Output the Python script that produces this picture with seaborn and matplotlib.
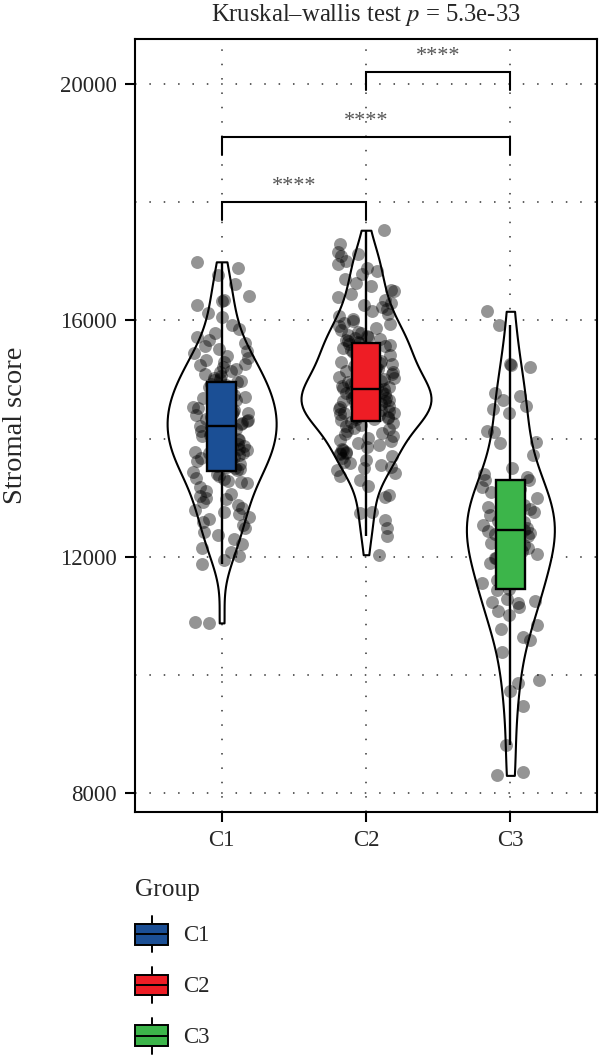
"""
Stromal score by immune cluster: violin + box + jitter, Kruskal-Wallis header
"""
import numpy as np
import pandas as pd
import matplotlib
matplotlib.use("Agg")
import matplotlib.pyplot as plt
from matplotlib.patches import Patch, Rectangle
from matplotlib.lines import Line2D
from matplotlib.legend_handler import HandlerBase
import seaborn as sns

groups = ["C1", "C2", "C3"]
box_colors = ["#1B4F95", "#EE1D25", "#3CB54A"]

# scores read off the jittered points (estimated where points overlap)
c1_scores = [
    16990, 16880, 16760, 16610, 16410, 16340, 16320, 16260, 16120, 16050, 15920, 15860, 15780,
    15720, 15660, 15610, 15560, 15520,
    15480, 15450, 15400, 15370, 15330, 15290, 15260,
    15240, 15210, 15180, 15150, 15120, 15090, 15060, 15030, 15010,
    14990, 14970, 14950, 14930, 14900, 14870, 14850, 14820, 14800, 14780, 14760,
    14740, 14720, 14700, 14680, 14650, 14630, 14610, 14590, 14570, 14550, 14530, 14510,
    14490, 14470, 14450, 14430, 14410, 14390, 14370, 14350, 14330, 14310, 14290, 14270, 14255,
    14240, 14220, 14200, 14180, 14160, 14140, 14120, 14100, 14080, 14060, 14040, 14020, 14005,
    13990, 13970, 13950, 13920, 13900, 13880, 13850, 13830, 13810, 13780, 13760, 13750,
    13740, 13720, 13690, 13670, 13640, 13620, 13590, 13570, 13540, 13520, 13505,
    13490, 13460, 13430, 13400, 13370, 13340, 13310, 13280, 13260,
    13240, 13180, 13120, 13060, 13030, 13000,
    12980, 12930, 12880, 12830, 12790, 12760,
    12720, 12680, 12630, 12580, 12530,
    12480, 12420, 12360, 12300,
    12220, 12150, 12080, 12020,
    11950, 11870,
    10900, 10880,
]
c2_scores = [
    17525, 17290, 17150, 17120, 17085, 17010,
    16950, 16880, 16840, 16790,
    16700, 16640, 16580, 16520,
    16490, 16440, 16400, 16350, 16300, 16260,
    16230, 16190, 16150, 16110, 16070, 16030,
    15990, 15960, 15930, 15900, 15870, 15840, 15810, 15780, 15760,
    15740, 15720, 15700, 15680, 15665, 15650, 15640,
    15620, 15600, 15580, 15560, 15540, 15520, 15505,
    15490, 15470, 15440, 15420, 15390, 15370, 15340, 15320, 15300, 15280, 15260,
    15240, 15220, 15200, 15180, 15160, 15140, 15120, 15100, 15080, 15060, 15040, 15020, 15005,
    14990, 14975, 14960, 14940, 14920, 14900, 14885, 14870, 14860, 14855, 14850, 14848,
    14830, 14810, 14795, 14780, 14765, 14755,
    14740, 14728, 14716, 14704, 14692, 14680, 14668, 14655, 14642, 14630,
    14617, 14604, 14591, 14578, 14565, 14552, 14540, 14527, 14515, 14503,
    14490, 14479, 14468, 14457, 14446, 14435, 14424, 14413,
    14402, 14391, 14380, 14369, 14358, 14347, 14336, 14325,
    14310, 14285, 14260, 14235, 14210, 14185, 14160, 14130, 14100, 14070, 14040, 14010,
    13980, 13950, 13920, 13890, 13860, 13830, 13800, 13775, 13760, 13750,
    13730, 13700, 13670, 13640, 13610, 13580, 13550, 13525, 13505,
    13470, 13420, 13370, 13300,
    13203, 13050, 13017,
    12760, 12746, 12627,
    12492, 12356, 12034,
]
c3_scores = [
    16153, 15915, 15254, 15237, 15203, 14763, 14712, 14644, 14542, 14508,
    14424, 14119, 14110, 13949, 13932, 13729, 13508, 13407, 13356,
    13300, 13290,
    13186, 13150, 13100, 13085, 13000, 12960, 12932, 12880, 12847, 12800,
    12750, 12700, 12644, 12600, 12593, 12542, 12520, 12480, 12460, 12430,
    12407, 12390, 12350, 12300, 12237, 12203, 12150, 12100, 12050, 11983,
    11975, 11900, 11898, 11800, 11712, 11650, 11600, 11550,
    11450, 11440,
    11288, 11254, 11237, 11220, 11150, 11085, 11017, 10847, 10780, 10650,
    10593, 10390, 9915, 9864, 9729, 9475, 8814, 8356, 8300,
]

# significance brackets: pair, bracket height, label
bracket_pairs = [("C1", "C2"), ("C1", "C3"), ("C2", "C3")]
bracket_heights = [18000, 19100, 20200]
bracket_labels = ["****", "****", "****"]
title_text = "Kruskal\u2013wallis test $p$ = 5.3e-33"


class BoxKeyHandler(HandlerBase):
    """Legend key drawn like a small boxplot"""

    def create_artists(self, legend, orig_handle, xdescent, ydescent,
                       width, height, fontsize, trans):
        x0, y0 = -xdescent, -ydescent
        bh = height * 0.58
        by = y0 + (height - bh) / 2
        cx = x0 + width / 2
        lw = 1.4
        top = Line2D([cx, cx], [by + bh, y0 + height], color="black", lw=lw, transform=trans)
        bot = Line2D([cx, cx], [y0, by], color="black", lw=lw, transform=trans)
        rect = Rectangle((x0, by), width, bh, facecolor=orig_handle.get_facecolor(),
                         edgecolor="black", lw=lw, transform=trans)
        med = Line2D([x0, x0 + width], [by + bh / 2] * 2, color="black", lw=lw, transform=trans)
        return [top, bot, rect, med]


def main():
    sns.set_style("white")
    plt.rcParams["font.family"] = ["Liberation Serif", "DejaVu Serif"]
    plt.rcParams["mathtext.fontset"] = "stix"
    fs = 16.5

    df = pd.DataFrame({
        "Group": ["C1"] * len(c1_scores) + ["C2"] * len(c2_scores) + ["C3"] * len(c3_scores),
        "Stromal score": c1_scores + c2_scores + c3_scores,
    })

    fig = plt.figure(figsize=(6, 10.58), dpi=100)
    ax = fig.add_axes([0.225, 0.2325, 0.77, 0.7306])

    sns.violinplot(data=df, x="Group", y="Stromal score", order=groups,
                   color="white", linecolor="black", linewidth=1.5, inner=None,
                   cut=0, density_norm="area", width=0.9,
                   bw_method="silverman", bw_adjust=0.85, ax=ax, zorder=1)

    np.random.seed(7)
    sns.stripplot(data=df, x="Group", y="Stromal score", order=groups,
                  color="black", alpha=0.42, size=9.3, jitter=0.2, linewidth=0,
                  ax=ax, zorder=2)

    sns.boxplot(data=df, x="Group", y="Stromal score", order=groups,
                hue="Group", hue_order=groups, palette=box_colors, legend=False,
                saturation=1, width=0.2, showfliers=False, showcaps=False, whis=1.5,
                linecolor="black", linewidth=1.7, ax=ax, zorder=3)

    # brackets
    pos = {g: i for i, g in enumerate(groups)}
    for (a, b), h, lab in zip(bracket_pairs, bracket_heights, bracket_labels):
        xa, xb = pos[a], pos[b]
        ax.plot([xa, xa, xb, xb], [h - 300, h, h, h - 300], color="black", lw=1.5,
                solid_joinstyle="miter", zorder=4)
        ax.text((xa + xb) / 2, h + 100, lab, ha="center", va="bottom",
                fontsize=16, color="#555555", zorder=4)

    ax.set_xlim(-0.6, 2.6)
    ax.set_ylim(7680, 20760)
    ax.set_yticks([8000, 12000, 16000, 20000])
    ax.set_yticks([10000, 14000, 18000], minor=True)
    ax.set_axisbelow(True)
    ax.grid(which="both", axis="both", linestyle=(0, (1, 8.4)), color="#333333",
            linewidth=1.1)

    for sp in ax.spines.values():
        sp.set_visible(True)
        sp.set_color("black")
        sp.set_linewidth(1.5)
    ax.tick_params(axis="both", which="major", length=7, width=1.5, color="black",
                   labelsize=fs, pad=6, left=True, bottom=True)
    ax.tick_params(axis="y", which="minor", length=0)

    ax.set_xlabel("")
    ax.set_ylabel("Stromal score", fontsize=20.5)
    ax.yaxis.set_label_coords(-0.232, 0.5)
    ax.set_title(title_text, fontsize=17.7, pad=13)

    handles = [Patch(facecolor=c, edgecolor="black") for c in box_colors]
    leg = fig.legend(handles, groups, title="Group", loc="upper left",
                     bbox_to_anchor=(0.225, 0.169), bbox_transform=fig.transFigure,
                     frameon=False, borderpad=0, borderaxespad=0, fontsize=fs,
                     title_fontsize=18.3, handlelength=1.44, handleheight=2.04,
                     labelspacing=0.65, handletextpad=0.65, alignment="left",
                     handler_map={Patch: BoxKeyHandler()})

    fig.savefig("out.png", dpi=100)
    plt.close(fig)


if __name__ == "__main__":
    main()
